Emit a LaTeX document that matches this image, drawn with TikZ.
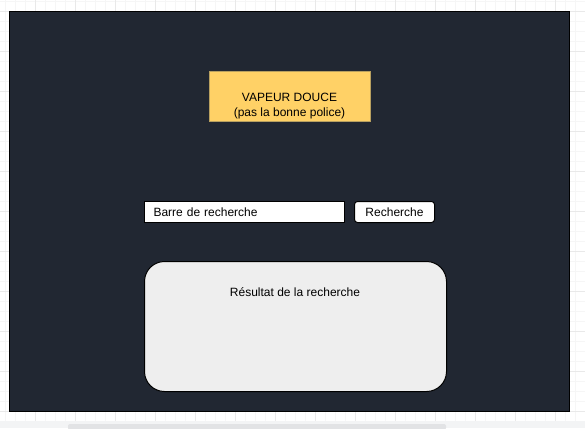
\documentclass[tikz,border=0pt]{standalone}
\usepackage{fontspec}
\setmainfont{Liberation Sans}
\definecolor{canvasdark}{HTML}{212732}
\definecolor{titleyellow}{HTML}{FFD166}
\definecolor{titleedge}{HTML}{B8A060}
\definecolor{resultgrey}{HTML}{EEEEEE}
\definecolor{gridminor}{HTML}{F6F6F6}
\definecolor{gridmajor}{HTML}{E9E9E9}
\definecolor{stripgrey}{HTML}{F3F4F5}
\definecolor{scrollgrey}{HTML}{E2E3E5}
\begin{document}
\begin{tikzpicture}[x=1pt,y=-1pt,
  minorline/.style={draw=gridminor,line width=0.7pt},
  majorline/.style={draw=gridmajor,line width=0.7pt},
  frame/.style={fill=canvasdark,draw=black,line width=1pt,anchor=north west,inner sep=0pt},
  titlebox/.style={fill=titleyellow,draw=titleedge,line width=0.6pt,anchor=north west,inner sep=0pt},
  labeltext/.style={font=\fontsize{12}{15}\selectfont,text=black,inner sep=0pt,align=center},
  fieldbox/.style={fill=white,draw=black,line width=1pt,anchor=north west,inner ysep=0pt,inner xsep=9pt,
    font=\fontsize{12}{14}\selectfont,align=left},
  buttonbox/.style={fill=white,draw=black,line width=1pt,rounded corners=3pt,anchor=north west,inner sep=0pt,
    font=\fontsize{12}{14}\selectfont},
  resultbox/.style={fill=resultgrey,draw=black,line width=1pt,rounded corners=20pt,anchor=north west,inner sep=0pt}
]
\useasboundingbox (0,0) rectangle (585,428);
\fill[white] (0,0) rectangle (585,428);
% grid
\foreach \gx in {5,15,...,585} \draw[minorline] (\gx,0) -- (\gx,421);
\foreach \gy in {1,11,...,421} \draw[minorline] (0,\gy) -- (585,\gy);
\foreach \gx in {35,75,...,585} \draw[majorline] (\gx,0) -- (\gx,421);
\foreach \gy in {11,51,...,421} \draw[majorline] (0,\gy) -- (585,\gy);
% bottom strip and scrollbar
\fill[stripgrey] (0,421) rectangle (585,428);
\fill[scrollgrey,rounded corners=2pt] (68,424) rectangle (446,430);
% dark canvas
\node[frame,minimum width=560pt,minimum height=400pt] (page) at (9,11) {};
% title
\node[titlebox,minimum width=161pt,minimum height=50pt] (title) at (209,71) {};
\node[labeltext] (titletext) at (289.5,106) {VAPEUR DOUCE\\(pas la bonne police)};
% search bar and button
\node[fieldbox,minimum width=200pt,minimum height=21pt,text width=182pt] (search) at (144,201) {Barre de recherche};
\node[buttonbox,minimum width=80pt,minimum height=21pt] (button) at (354,201) {Recherche};
% result
\node[resultbox,minimum width=302pt,minimum height=130pt] (result) at (144,261) {};
\node[labeltext] (resulttext) at (295,292) {Résultat de la recherche};
\end{tikzpicture}
\end{document}
